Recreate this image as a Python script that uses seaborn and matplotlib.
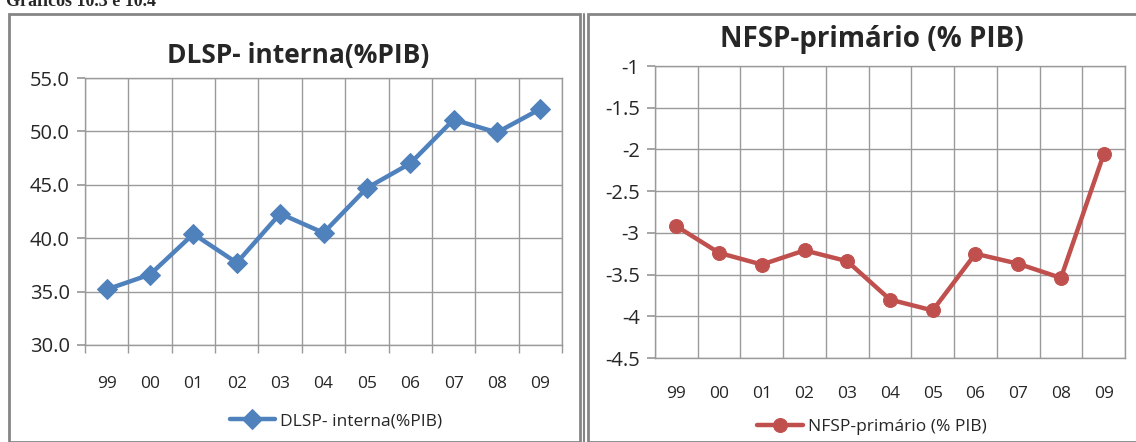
import numpy as np
import pandas as pd
import seaborn as sns
import matplotlib
matplotlib.use("Agg")
import matplotlib.pyplot as plt
from matplotlib.patches import Rectangle
from matplotlib.ticker import FixedLocator, NullFormatter

years = ["99", "00", "01", "02", "03", "04", "05", "06", "07", "08", "09"]
dlsp = [35.2, 36.6, 40.4, 37.7, 42.3, 40.5, 44.7, 47.0, 51.1, 49.9, 52.1]
nfsp = [-2.92, -3.24, -3.38, -3.21, -3.34, -3.80, -3.93, -3.25, -3.37, -3.54, -2.06]
title_left = "DLSP- interna(%PIB)"
title_right = "NFSP-primário (% PIB)"

sns.set_theme(style="white")
plt.rcParams['font.family'] = ['Open Sans', 'DejaVu Sans']

BLUE = "#4F81BD"
RED = "#C0504D"
GRID = "#9a9a9a"
BORDER = "#858585"

fig = plt.figure(figsize=(11.36, 4.42), dpi=100)
W, H = 1136, 442

def fx(x):
    return x / W

def fy(y):
    return 1 - y / H

# panel borders
fig.patches.append(Rectangle((fx(9), fy(442)), fx(571), fy(14) - fy(442), transform=fig.transFigure,
                             fill=False, edgecolor=BORDER, linewidth=2))
fig.patches.append(Rectangle((fx(588), fy(442)), fx(560), fy(14) - fy(442), transform=fig.transFigure,
                             fill=False, edgecolor=BORDER, linewidth=2))
fig.add_artist(plt.Line2D([fx(584), fx(584)], [0, fy(14)], transform=fig.transFigure, color=BORDER, lw=1.5))

df1 = pd.DataFrame({"x": np.arange(len(years)), "y": dlsp})
df2 = pd.DataFrame({"x": np.arange(len(years)), "y": nfsp})

ax1 = fig.add_axes([fx(85), fy(345), fx(562 - 85), fy(78) - fy(345)])
ax2 = fig.add_axes([fx(655), fy(358), fx(1125 - 655), fy(66) - fy(358)])

sns.lineplot(data=df1, x="x", y="y", ax=ax1, color=BLUE, marker="D", markersize=10,
             markeredgecolor=BLUE, linewidth=3.2, label="DLSP- interna(%PIB)")
sns.lineplot(data=df2, x="x", y="y", ax=ax2, color=RED, marker="o", markersize=10,
             markeredgecolor=RED, linewidth=3.2, label="NFSP-primário (% PIB)")

for ax in (ax1, ax2):
    ax.set_xlim(-0.5, len(years) - 0.5)
    ax.set_xticks(np.arange(len(years)))
    ax.set_xticklabels(years, fontsize=12.5)
    ax.xaxis.set_minor_locator(FixedLocator(np.arange(-0.5, len(years), 1.0)))
    ax.xaxis.set_minor_formatter(NullFormatter())
    ax.grid(True, which="minor", axis="x", color=GRID, linewidth=1)
    ax.grid(True, which="major", axis="y", color=GRID, linewidth=1)
    ax.grid(False, which="major", axis="x")
    ax.set_xlabel("")
    ax.set_ylabel("")
    for sp in ax.spines.values():
        sp.set_color(GRID)
        sp.set_linewidth(1)
    ax.tick_params(axis="y", which="major", left=True, length=6, color=GRID, labelsize=14.5, pad=5)
    ax.tick_params(axis="x", which="major", bottom=False, labelsize=12.5)

ax1.set_ylim(30, 55)
ax1.set_yticks([30, 35, 40, 45, 50, 55])
ax1.set_yticklabels(["30.0", "35.0", "40.0", "45.0", "50.0", "55.0"])
ax1.tick_params(axis="x", which="minor", bottom=True, length=6, color=GRID)
ax1.tick_params(axis="x", which="major", pad=16)

ax2.set_ylim(-4.5, -1)
ax2.set_yticks([-4.5, -4, -3.5, -3, -2.5, -2, -1.5, -1])
ax2.set_yticklabels(["-4.5", "-4", "-3.5", "-3", "-2.5", "-2", "-1.5", "-1"])
ax2.tick_params(axis="x", which="minor", bottom=False)
ax2.tick_params(axis="x", which="major", pad=14)

ax1.legend(loc="center", bbox_to_anchor=(fx(336), fy(421)), bbox_transform=fig.transFigure,
           frameon=False, handlelength=2.6, handletextpad=0.3, prop={'size': 12.5})
ax2.legend(loc="center", bbox_to_anchor=(fx(872), fy(427)), bbox_transform=fig.transFigure,
           frameon=False, handlelength=2.6, handletextpad=0.3, prop={'size': 12.5})

fig.text(fx(298), fy(55), title_left, ha="center", va="center", fontsize=19, fontweight="bold")
fig.text(fx(872), fy(40), title_right, ha="center", va="center", fontsize=20, fontweight="bold")
fig.text(fx(6), fy(1), "Gráficos 10.3 e 10.4", ha="left", va="center", fontsize=13,
         fontweight="bold", family=["Liberation Serif", "DejaVu Serif"])

fig.savefig("out.png", dpi=100)
